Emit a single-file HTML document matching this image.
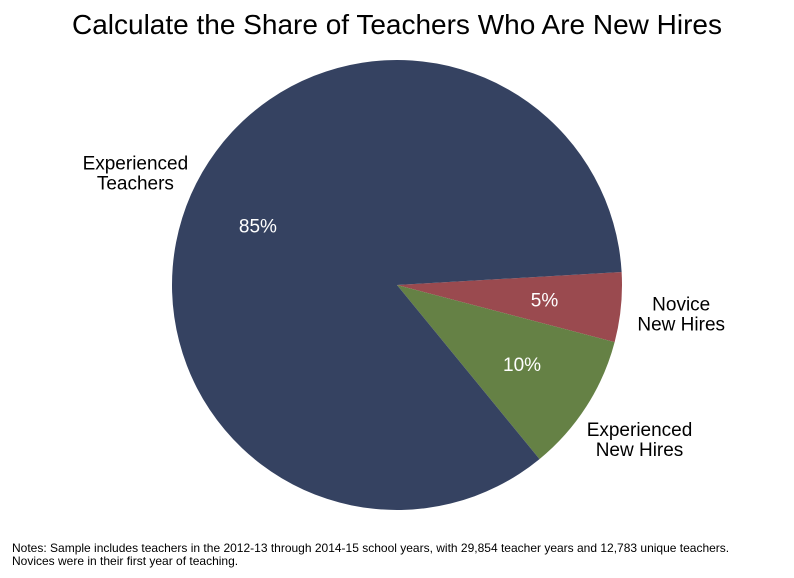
<!DOCTYPE html>
<html><head><meta charset="utf-8"><style>
body{margin:0;background:#fff;}
svg{display:block;font-family:"Liberation Sans",Arial,sans-serif;}
</style></head><body>
<svg width="794" height="578" viewBox="0 0 794 578">
<rect width="794" height="578" fill="#fff"/>
<text x="397" y="34" text-anchor="middle" font-size="28" fill="#000">Calculate the Share of Teachers Who Are New Hires</text>
<g id="slices"></g>
<g id="labels"></g>
<text x="12" y="552" font-size="12" fill="#000">Notes: Sample includes teachers in the 2012-13 through 2014-15  school years, with 29,854 teacher years and 12,783 unique  teachers.</text>
<text x="12" y="565" font-size="12" fill="#000">Novices were in their first year of teaching.</text>
</svg>
<script>
const categories = ["Novice New Hires", "Experienced New Hires", "Experienced Teachers"];
const values = [5, 10, 85];
const pctLabels = ["5%", "10%", "85%"];
const NS = "http://www.w3.org/2000/svg";
const cx = 397, cy = 285, r = 225, startDeg = -3.3;
const colors = ["#9a4a4f", "#658145", "#354261"];
const names = ["slice-novice-new-hires", "slice-experienced-new-hires", "slice-experienced-teachers"];
const labelLines = [["Novice", "New Hires"], ["Experienced", "New Hires"], ["Experienced", "Teachers"]];
const total = values.reduce((a, b) => a + b, 0);
const sg = document.getElementById("slices"), lg = document.getElementById("labels");
function pt(deg, rad) { const a = deg * Math.PI / 180; return [cx + rad * Math.cos(a), cy + rad * Math.sin(a)]; }
let ang = startDeg;
values.forEach((v, i) => {
  const sweep = v / total * 360, a2 = ang + sweep;
  const p1 = pt(ang, r), p2 = pt(a2, r);
  const path = document.createElementNS(NS, "path");
  path.setAttribute("d", `M${cx},${cy} L${p1[0]},${p1[1]} A${r},${r} 0 ${sweep > 180 ? 1 : 0} 1 ${p2[0]},${p2[1]} Z`);
  path.setAttribute("fill", colors[i]);
  
  
  sg.appendChild(path);
  const mid = ang + sweep / 2;
  const pp = pt(mid, i === 2 ? 0.68 * r : 0.65 * r);
  const t = document.createElementNS(NS, "text");
  t.setAttribute("x", pp[0] + (i === 2 ? 1 : 2)); t.setAttribute("y", pp[1] + (i === 2 ? 9 : 7));
  t.setAttribute("text-anchor", "middle"); t.setAttribute("font-size", "19"); t.setAttribute("fill", "#fff");
  t.textContent = pctLabels[i];
  
  
  lg.appendChild(t);
  const op = pt(mid, r * 1.265);
  const ol = document.createElementNS(NS, "text");
  ol.setAttribute("text-anchor", "middle"); ol.setAttribute("font-size", "19"); ol.setAttribute("fill", "#000");
  const dx = i === 2 ? -1 : (i === 1 ? 3 : 1);
  labelLines[i].forEach((ln, j) => {
    const ts = document.createElementNS(NS, "tspan");
    ts.setAttribute("x", op[0] + dx); ts.setAttribute("y", op[1] - 3 + (i === 2 ? 2 : 0) + j * 20);
    ts.textContent = ln;
    ol.appendChild(ts);
  });
  
  
  lg.appendChild(ol);
  ang = a2;
});
</script>
</body></html>
